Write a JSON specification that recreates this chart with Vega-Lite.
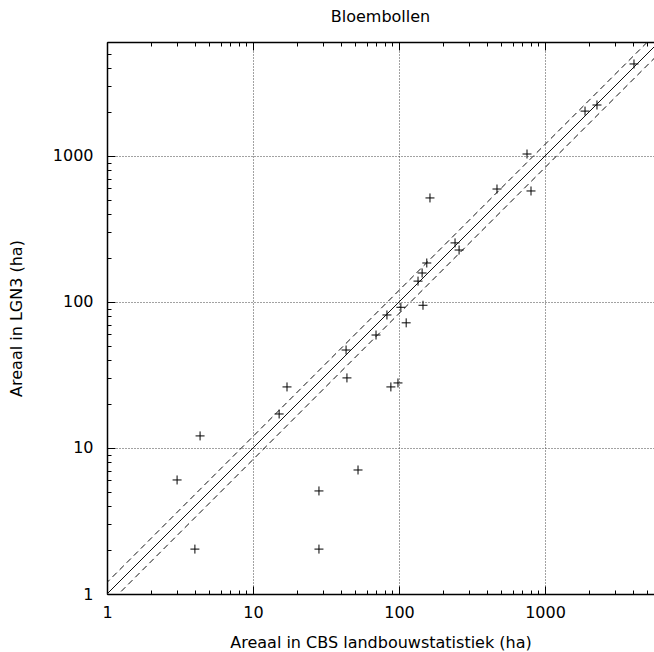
{
  "$schema": "https://vega.github.io/schema/vega-lite/v6.json",
  "autosize": {"type": "none"},
  "padding": {"left": 107, "top": 42, "right": 0, "bottom": 58},
  "width": 547,
  "height": 552,
  "background": "white",
  "title": {"text": "Bloembollen", "font": "DejaVu Sans", "fontSize": 16, "fontWeight": "normal", "color": "#000", "anchor": "middle", "frame": "group", "baseline": "alphabetic", "offset": 4},
  "config": {
    "view": {"stroke": null},
    "axis": {"labelFont": "DejaVu Sans", "titleFont": "DejaVu Sans", "labelFontSize": 16, "titleFontSize": 16, "titleFontWeight": "normal", "labelColor": "#000", "titleColor": "#000", "domainColor": "#000", "tickColor": "#000", "domainWidth": 1.5, "tickWidth": 1, "labelFlush": false, "labelOverlap": false}
  },
  "datasets": {
    "pts": [
      {"cbs": 4070, "lgn": 4270},
      {"cbs": 1880, "lgn": 2030},
      {"cbs": 2270, "lgn": 2235},
      {"cbs": 753, "lgn": 1032},
      {"cbs": 802, "lgn": 576},
      {"cbs": 469, "lgn": 594},
      {"cbs": 163, "lgn": 516},
      {"cbs": 242, "lgn": 254},
      {"cbs": 258, "lgn": 227},
      {"cbs": 155, "lgn": 185},
      {"cbs": 144, "lgn": 158},
      {"cbs": 135, "lgn": 139},
      {"cbs": 146, "lgn": 95},
      {"cbs": 103, "lgn": 92},
      {"cbs": 112, "lgn": 72},
      {"cbs": 82.7, "lgn": 81.5},
      {"cbs": 69.6, "lgn": 59.4},
      {"cbs": 43.4, "lgn": 46.9},
      {"cbs": 44, "lgn": 30.2},
      {"cbs": 88, "lgn": 26.2},
      {"cbs": 98.4, "lgn": 27.9},
      {"cbs": 52.4, "lgn": 7.07},
      {"cbs": 28.3, "lgn": 5.08},
      {"cbs": 28.3, "lgn": 2.03},
      {"cbs": 17.1, "lgn": 26.2},
      {"cbs": 15.1, "lgn": 17.1},
      {"cbs": 4.34, "lgn": 12.1},
      {"cbs": 3.02, "lgn": 6.04},
      {"cbs": 4.0, "lgn": 2.03}
    ],
    "ref": [
      {"cbs": 1, "lgn": 1},
      {"cbs": 10000, "lgn": 10000}
    ],
    "hi": [
      {"cbs": 0.5, "lgn": 0.6},
      {"cbs": 10000, "lgn": 12000}
    ],
    "lo": [
      {"cbs": 1, "lgn": 0.8333},
      {"cbs": 10000, "lgn": 8333}
    ]
  },
  "resolve": {"axis": {"x": "independent", "y": "independent"}},
  "layer": [
    {
      "data": {"name": "pts"},
      "mark": {"type": "point", "shape": "M-1,0L1,0M0,-1L0,1", "size": 81, "filled": false, "stroke": "#000", "strokeWidth": 1, "opacity": 1, "clip": true},
      "encoding": {
        "x": {"field": "cbs", "type": "quantitative", "scale": {"type": "log", "domain": [1, 5580], "nice": false},
          "axis": {"orient": "bottom", "values": [1, 10, 100, 1000], "format": "d", "grid": true, "gridDash": [1, 2], "gridColor": "#444", "gridWidth": 1, "tickSize": -8, "labelPadding": 18, "title": "Areaal in CBS landbouwstatistiek (ha)", "titlePadding": 14}},
        "y": {"field": "lgn", "type": "quantitative", "scale": {"type": "log", "domain": [1, 6037], "nice": false},
          "axis": {"orient": "left", "values": [1, 10, 100, 1000], "format": "d", "grid": true, "gridDash": [1, 2], "gridColor": "#444", "gridWidth": 1, "tickSize": -8, "labelPadding": 22, "title": "Areaal in LGN3 (ha)", "titlePadding": 28}}
      }
    },
    {
      "data": {"name": "ref"},
      "mark": {"type": "line", "stroke": "#111", "strokeWidth": 1, "clip": true},
      "encoding": {
        "x": {"field": "cbs", "type": "quantitative", "scale": {"type": "log", "domain": [1, 5580], "nice": false},
          "axis": {"orient": "bottom", "values": [2,3,4,5,6,7,8,9,20,30,40,50,60,70,80,90,200,300,400,500,600,700,800,900,2000,3000,4000,5000], "labels": false, "grid": false, "domain": false, "tickSize": -4, "title": null}},
        "y": {"field": "lgn", "type": "quantitative", "scale": {"type": "log", "domain": [1, 6037], "nice": false},
          "axis": {"orient": "left", "values": [2,3,4,5,6,7,8,9,20,30,40,50,60,70,80,90,200,300,400,500,600,700,800,900,2000,3000,4000,5000,6000], "labels": false, "grid": false, "domain": false, "tickSize": -4, "title": null}}
      }
    },
    {
      "data": {"name": "hi"},
      "mark": {"type": "line", "stroke": "#111", "strokeWidth": 1, "strokeDash": [6, 4], "clip": true},
      "encoding": {
        "x": {"field": "cbs", "type": "quantitative", "scale": {"type": "log", "domain": [1, 5580], "nice": false},
          "axis": {"orient": "top", "values": [1, 10, 100, 1000], "labels": false, "grid": false, "domain": true, "tickSize": -8, "title": null}},
        "y": {"field": "lgn", "type": "quantitative", "scale": {"type": "log", "domain": [1, 6037], "nice": false}, "axis": null}
      }
    },
    {
      "data": {"name": "lo"},
      "mark": {"type": "line", "stroke": "#111", "strokeWidth": 1, "strokeDash": [6, 4], "clip": true},
      "encoding": {
        "x": {"field": "cbs", "type": "quantitative", "scale": {"type": "log", "domain": [1, 5580], "nice": false},
          "axis": {"orient": "top", "values": [2,3,4,5,6,7,8,9,20,30,40,50,60,70,80,90,200,300,400,500,600,700,800,900,2000,3000,4000,5000], "labels": false, "grid": false, "domain": false, "tickSize": -4, "title": null}},
        "y": {"field": "lgn", "type": "quantitative", "scale": {"type": "log", "domain": [1, 6037], "nice": false}, "axis": null}
      }
    }
  ]
}
